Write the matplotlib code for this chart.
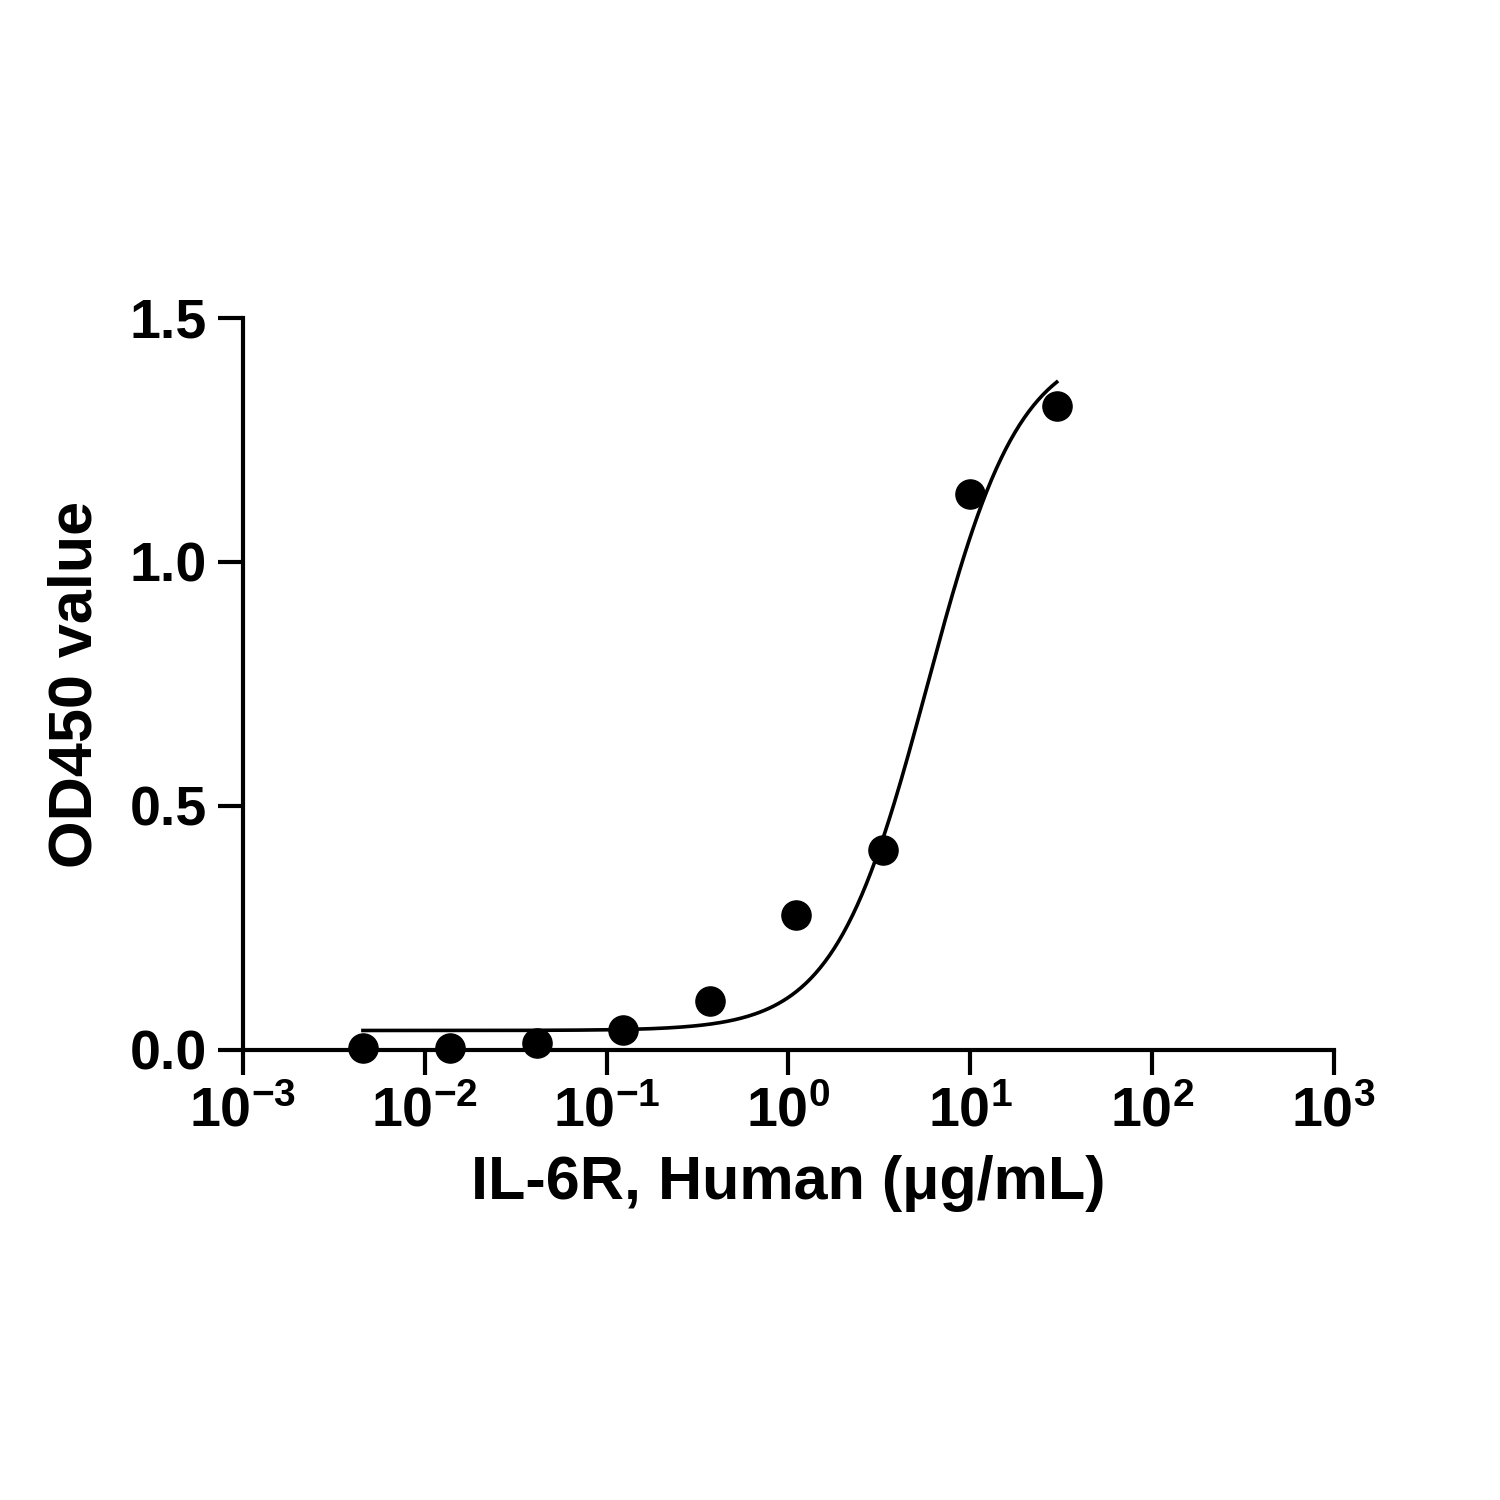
import numpy as np
import matplotlib
matplotlib.use("Agg")
import matplotlib.pyplot as plt
from matplotlib.ticker import LogLocator, NullLocator, FuncFormatter

conc = [0.00457, 0.0137, 0.0412, 0.123, 0.370, 1.11, 3.33, 10.0, 30.0]
od450 = [0.004, 0.005, 0.015, 0.04, 0.10, 0.277, 0.41, 1.14, 1.32]
# 4PL fit parameters
fit_bottom, fit_top, fit_ec50, fit_hill = 0.04, 1.45, 5.8, 1.7

plt.rcParams['font.family'] = ['Liberation Sans', 'DejaVu Sans']
plt.rcParams['font.weight'] = 'bold'
plt.rcParams['mathtext.fontset'] = 'custom'
plt.rcParams['mathtext.rm'] = 'Liberation Sans:bold'
plt.rcParams['mathtext.bf'] = 'Liberation Sans:bold'
plt.rcParams['mathtext.default'] = 'bf'
fig = plt.figure(figsize=(15, 15), dpi=100)
ax = fig.add_axes([0.162, 0.30, 0.727, 0.488])

xs = np.logspace(np.log10(conc[0]), np.log10(conc[-1]), 300)
ys = fit_bottom + (fit_top - fit_bottom) / (1 + (fit_ec50 / xs) ** fit_hill)
ax.plot(xs, ys, color='black', lw=2.6)
ax.plot(conc, od450, 'o', color='black', ms=21, clip_on=False)

ax.set_xscale('log')
ax.set_xlim(1e-3, 1e3)
ax.set_ylim(0, 1.5)
ax.set_yticks([0, 0.5, 1.0, 1.5])
ax.yaxis.set_major_formatter(FuncFormatter(lambda v, p: f"{v:.1f}"))
ax.xaxis.set_major_locator(LogLocator(base=10, numticks=10))
ax.xaxis.set_minor_locator(NullLocator())
ax.xaxis.set_major_formatter(FuncFormatter(lambda v, p: r"$10^{%d}$" % round(np.log10(v))))
for s in ['top', 'right']:
    ax.spines[s].set_visible(False)
for s in ['left', 'bottom']:
    ax.spines[s].set_linewidth(3)
ax.tick_params(width=3, length=18, labelsize=40, direction='out', pad=8)
ax.set_xlabel('IL-6R, Human (μg/mL)', fontsize=44, fontweight='bold', labelpad=12)
ax.set_ylabel('OD450 value', fontsize=44, fontweight='bold', labelpad=18)
fig.savefig('out.png', dpi=100)
